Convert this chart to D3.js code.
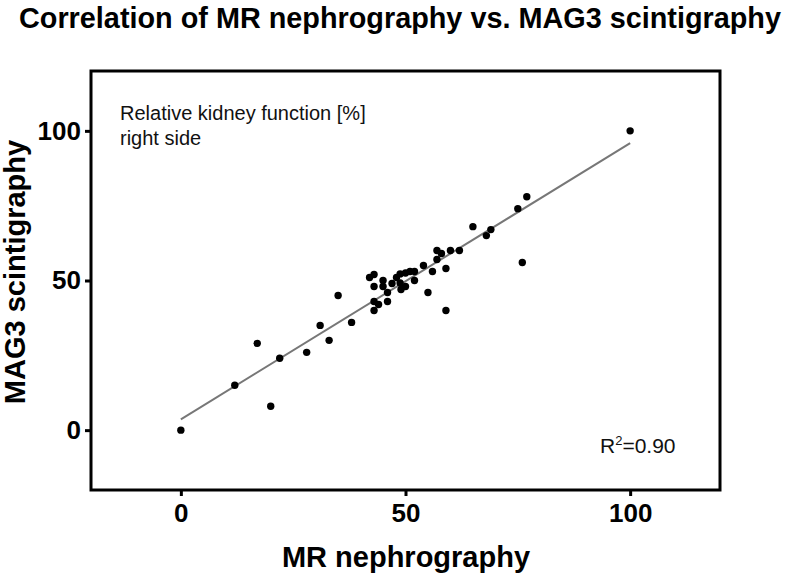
<!DOCTYPE html>
<html><head><meta charset="utf-8">
<script src="https://cdn.jsdelivr.net/npm/d3@7"></script>
<style>body{margin:0;background:#fff}svg{display:block}text{font-family:"Liberation Sans",Arial,sans-serif}</style>
</head><body><svg id="c" width="797" height="576"></svg>
<script>
const mrValues = [0,12,17,20,22,28,31,33,35,38,42,43,43,43,43,44,45,45,46,46,47,48,48.8,48.8,49,50,50,51,52,52,54,55,56,57,57,58,59,59,60,62,65,68,69,75,76,77,100];
const mag3Values = [0,15,29,8,24,26,35,30,45,36,51,52,48,43,40,42,50,48,46,43,49,51,52.2,49.2,47,48,52.5,53,53,50,55,46,53,57,60,59,54,40,60,60,68,65,67,74,56,78,100];
const xTicks = [0,50,100];
const yTicks = [0,50,100];
const fitLine = {intercept:3.6, slope:0.923, from:0, to:100};
const title = "Correlation of MR nephrography vs. MAG3 scintigraphy";
const xLabel = "MR nephrography";
const yLabel = "MAG3 scintigraphy";
const noteLines = ["Relative kidney function [%]","right side"];

const svg = d3.select("#c");
const m = {left:91, top:71, right:77, bottom:86};
const W = 797, H = 576;
const x = d3.scaleLinear().domain([-20,120]).range([m.left, W-m.right]);
const y = d3.scaleLinear().domain([-20,120]).range([H-m.bottom, m.top]);

svg.append("text").attr("x",400).attr("y",28).attr("text-anchor","middle")
  .attr("font-size",29).attr("font-weight","bold")
  .attr("textLength",762).attr("lengthAdjust","spacingAndGlyphs").text(title);

// axes ticks
const xa = svg.append("g").attr("transform",`translate(0,${H-m.bottom})`)
  .call(d3.axisBottom(x).tickValues(xTicks).tickSize(6).tickPadding(8).tickFormat(d3.format("d")));
const ya = svg.append("g").attr("transform",`translate(${m.left},0)`)
  .call(d3.axisLeft(y).tickValues(yTicks).tickSize(6).tickPadding(4).tickFormat(d3.format("d")));
[xa,ya].forEach(a=>{
  a.select(".domain").remove();
  a.selectAll(".tick line").attr("stroke","#000").attr("stroke-width",3);
  a.selectAll(".tick text").attr("font-size",26).attr("font-weight","bold").attr("fill","#000")
   .attr("font-family","'Liberation Sans',Arial,sans-serif");
});

// frame
svg.append("rect").attr("x",x(-20)).attr("y",y(120)).attr("width",x(120)-x(-20)).attr("height",y(-20)-y(120))
  .attr("fill","none").attr("stroke","#000").attr("stroke-width",3);

// regression line
svg.append("line").attr("x1",x(fitLine.from)).attr("y1",y(fitLine.intercept+fitLine.slope*fitLine.from))
  .attr("x2",x(fitLine.to)).attr("y2",y(fitLine.intercept+fitLine.slope*fitLine.to))
  .attr("stroke","#777").attr("stroke-width",2);

// points
svg.append("g").selectAll("circle").data(mrValues.map((v,i)=>[v,mag3Values[i]])).join("circle")
  .attr("cx",d=>x(d[0])).attr("cy",d=>y(d[1])).attr("r",3.7).attr("fill","#000");

// axis titles
svg.append("text").attr("x",406).attr("y",567).attr("text-anchor","middle")
  .attr("font-size",29).attr("font-weight","bold").text(xLabel);
svg.append("text").attr("transform","translate(25,272) rotate(-90)").attr("text-anchor","middle")
  .attr("font-size",29).attr("font-weight","bold").text(yLabel);

// note
const nt = svg.append("text").attr("x",120).attr("y",120).attr("font-size",20).attr("fill","#111");
noteLines.forEach((l,i)=>nt.append("tspan").attr("x",120).attr("dy",i?25:0).text(l));

// R2
const rt = svg.append("text").attr("x",600).attr("y",453).attr("font-size",21).attr("fill","#111");
rt.append("tspan").text("R");
rt.append("tspan").attr("font-size",13).attr("dy",-8).text("2");
rt.append("tspan").attr("dy",8).text("=0.90");
</script></body></html>
